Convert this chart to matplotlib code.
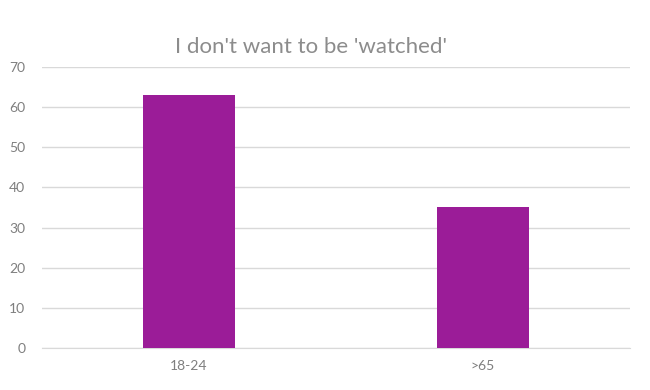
import matplotlib.pyplot as plt

# data
groups = ["18-24", ">65"]
values = [63, 35]
y_ticks = [0, 10, 20, 30, 40, 50, 60, 70]

plt.rcParams['font.family'] = ['Lato', 'DejaVu Sans']

fig = plt.figure(figsize=(6.5, 3.9), dpi=100)
ax = fig.add_axes([0.0646, 0.1077, 0.9046, 0.7205])

x = range(len(groups))
ax.bar(x, values, width=0.313, color='#9B1C98', zorder=3)

ax.set_xlim(-0.5, len(groups) - 0.5)
ax.set_ylim(0, 70)
ax.set_yticks(y_ticks)
ax.set_xticks(list(x))
ax.set_xticklabels(groups)

ax.grid(axis='y', color='#d9d9d9', linewidth=1, zorder=0)
for side in ['top', 'right', 'left']:
    ax.spines[side].set_visible(False)
ax.spines['bottom'].set_color('#d9d9d9')
ax.tick_params(length=0, colors='#7f7f7f', labelsize=10)
ax.tick_params(axis='y', pad=12)
ax.tick_params(axis='x', pad=9)

fig.text(0.479, 0.88, "I don't want to be 'watched'", ha='center', va='center',
         fontsize=16, color='#8c8c8c')

fig.savefig('out.png', dpi=100)
